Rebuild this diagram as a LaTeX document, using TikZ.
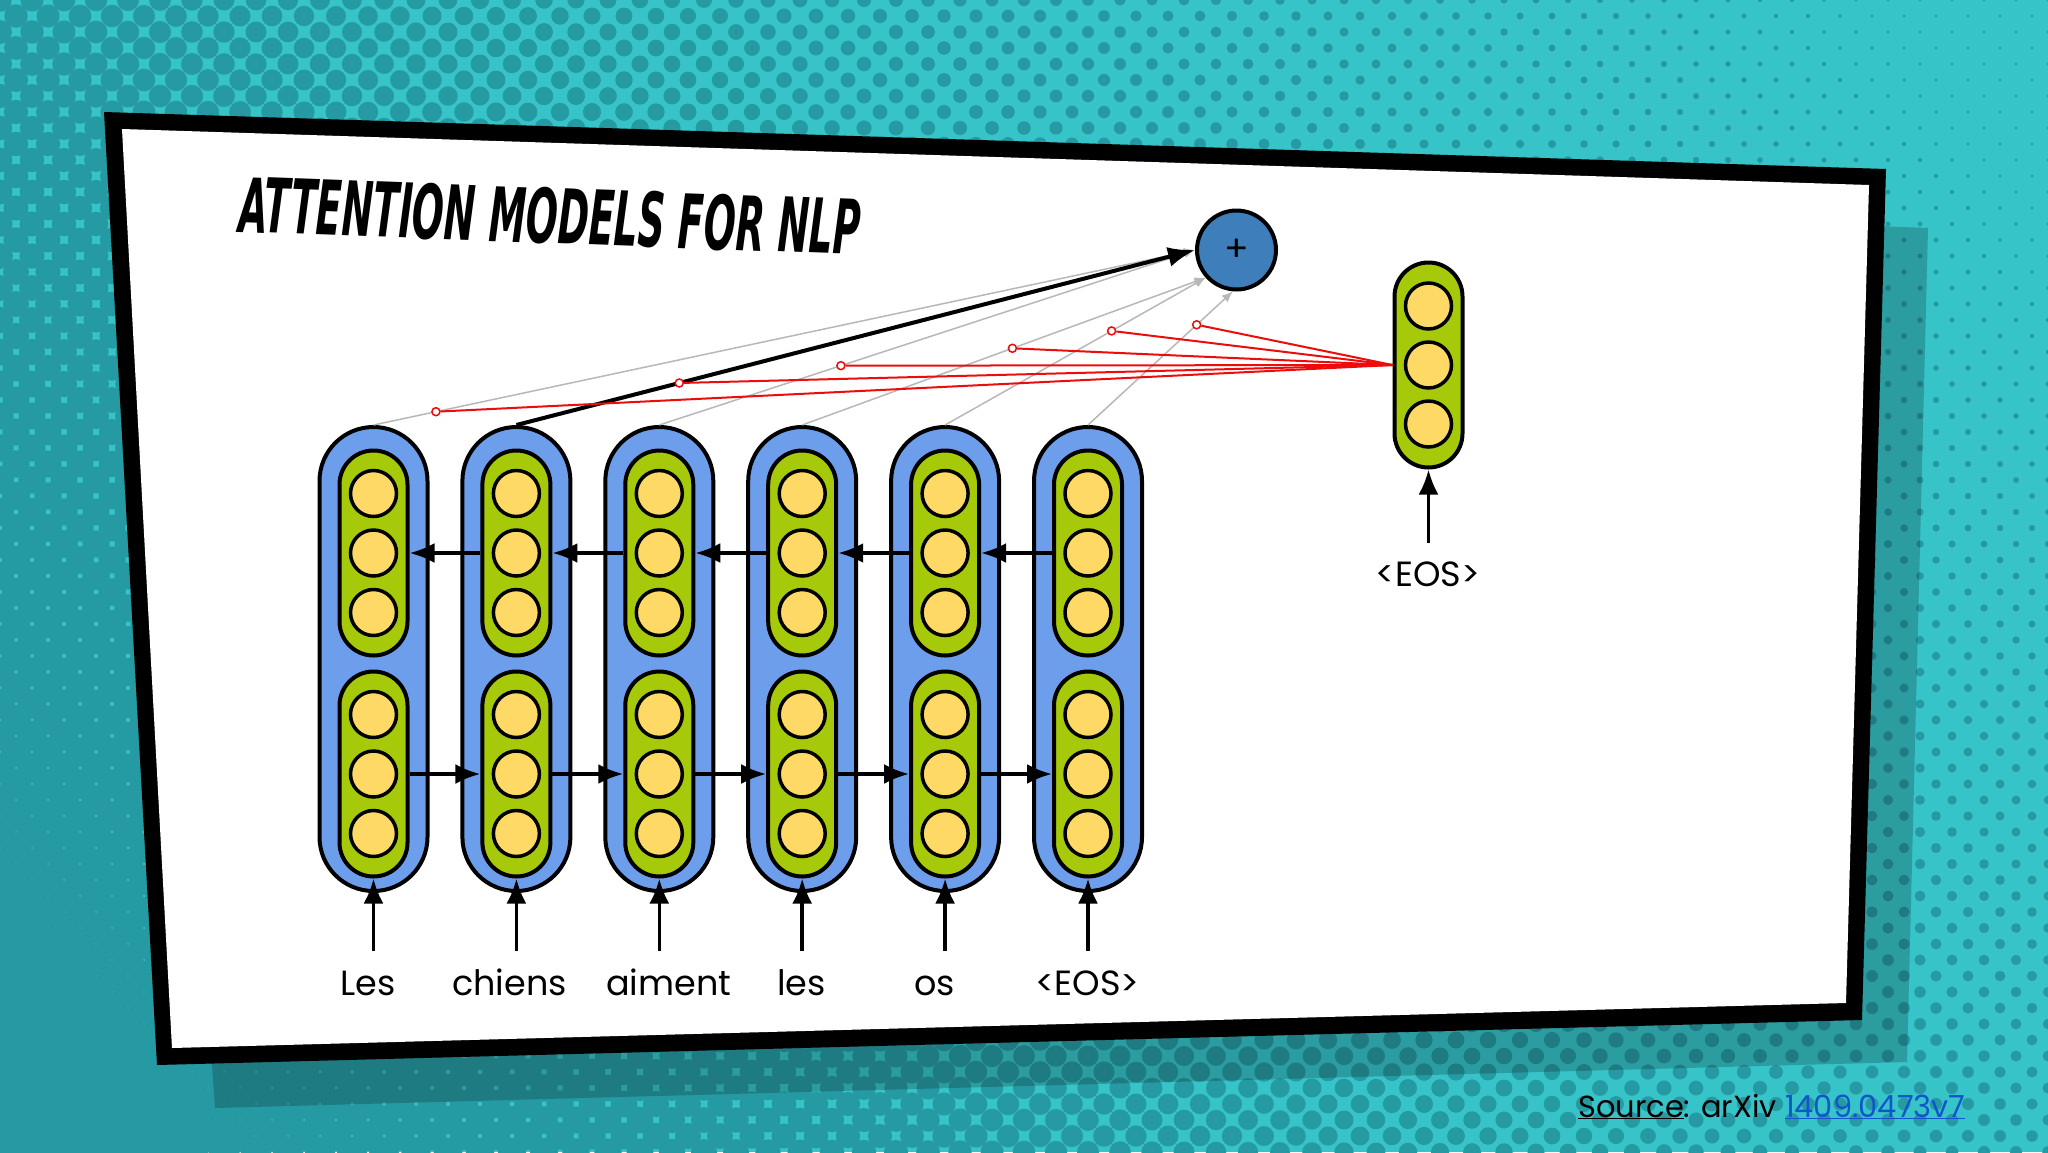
\documentclass[tikz,border=0pt]{standalone}
\usepackage{graphicx}
\usepackage{fontspec}
\setmainfont{Poppins}
\newfontfamily\titlefont{DejaVu Sans}
\usetikzlibrary{arrows.meta,calc}
\definecolor{bgteal}{RGB}{54,196,201}
\definecolor{dotteal}{RGB}{37,154,162}
\definecolor{capblue}{RGB}{109,158,235}
\definecolor{capgreen}{RGB}{166,202,10}
\definecolor{cellyellow}{RGB}{255,217,102}
\definecolor{plusblue}{RGB}{61,126,187}
\definecolor{attgray}{RGB}{184,184,184}
\definecolor{attred}{RGB}{236,12,12}
\definecolor{linkblue}{RGB}{17,85,204}
\newcommand{\wordfont}{\fontsize{35pt}{40pt}\selectfont}
\tikzset{
  bluecap/.style={draw, line width=4pt, fill=capblue, rectangle, rounded corners=54pt, minimum width=108pt, minimum height=464pt, inner sep=0pt},
  greencap/.style={draw, line width=4pt, fill=capgreen, rectangle, rounded corners=34pt, minimum width=68pt, minimum height=205pt, inner sep=0pt},
  cell/.style={draw, line width=3.5pt, fill=cellyellow, circle, minimum size=46pt, inner sep=0pt},
  flow/.style={line width=3.5pt, -{Latex[length=25pt,width=20pt]}},
  attgrey/.style={draw=attgray, line width=1.5pt, -{Latex[length=11pt,width=9pt]}},
  attmain/.style={line width=4pt, -{Latex[length=27pt,width=20pt]}},
  redlink/.style={draw=attred, line width=2pt},
  redring/.style={circle, draw=attred, line width=1.5pt, fill=white, minimum size=8pt, inner sep=0pt},
  word/.style={font=\wordfont, anchor=base, inner sep=0pt},
}
\begin{document}
\begin{tikzpicture}[x=1pt,y=-1pt]
\useasboundingbox (0,0) rectangle (2048,1152);
\fill[bgteal] (0,0) rectangle (2048,1152);
% halftone dots
\foreach \j in {0,...,72}{
  \foreach \i in {0,...,64}{
    \pgfmathsetmacro\px{32*\i+16*mod(\j,2)}
    \pgfmathsetmacro\py{16*\j}
    \pgfmathsetmacro\rr{max(1.3,0.58*(20.24-0.00935*\px+0.0077*\py))}
    \fill[dotteal] (\px,\py) circle[radius=\rr pt];
  }
}
% shadow and frame
\fill[black,opacity=0.2] (150,160) -- (1928,228) -- (1907,1062) -- (215,1108) -- cycle;
\fill[black] (104,112) -- (1886,169) -- (1862,1020) -- (157,1065) -- cycle;
\fill[white] (122,129) -- (1869,185) -- (1846,1003) -- (172,1048) -- cycle;
% title
\node[rotate=-2.1, anchor=base west, inner sep=0pt] (title) at (238,232)
  {\resizebox{622pt}{56pt}{\titlefont\bfseries\itshape ATTENTION MODELS FOR NLP}};
% encoder columns
\foreach \i/\x in {1/373.5,2/516.4,3/659.3,4/802.2,5/945.1,6/1088.0}{
  \node[bluecap] (b\i) at (\x,659) {};
  \node[greencap] (gu\i) at (\x,553) {};
  \node[greencap] (gl\i) at (\x,774) {};
  \foreach \k/\y in {1/493.5,2/553,3/612.5}{
    \node[cell] (u\i-\k) at (\x,\y) {};
  }
  \foreach \k/\y in {1/714.5,2/774,3/833.5}{
    \node[cell] (l\i-\k) at (\x,\y) {};
  }
  \coordinate (in\i) at (\x,951);
}
% recurrent arrows
\foreach \i [evaluate=\i as \j using int(\i+1)] in {1,...,5}{
  \draw[flow] (gl\i.east) -- (gl\j.west);
  \draw[flow] (gu\j.west) -- (gu\i.east);
}
% input words
\node[word] (w1) at (368,995) {Les};
\node[word] (w2) at (509.5,995) {chiens};
\node[word] (w3) at (668.8,995) {aiment};
\node[word] (w4) at (801.6,995) {les};
\node[word] (w5) at (934.8,995) {os};
\node[word] (w6) at (1087.4,995) {<EOS>};
\foreach \i in {1,...,6}{
  \draw[flow] (in\i) -- (gl\i.south);
}
% plus node
\node[circle, fill=plusblue, draw, line width=4pt, minimum size=79pt, inner sep=0pt,
      font=\fontsize{36pt}{40pt}\selectfont] (plus) at (1236.5,250) {+};
% decoder
\node[greencap] (dec) at (1428.5,365) {};
\foreach \k/\y in {1/306,2/365,3/424}{
  \node[cell] (d\k) at (1428.5,\y) {};
}
\node[word] (eos) at (1428,586.7) {<EOS>};
\coordinate (ein) at (1428.5,543);
\draw[flow] (ein) -- (dec.south);
% attention connections
\draw[attgrey] (b1.north) -- (plus.west);
\draw[attgrey] (b3.north) -- (plus.west);
\draw[attgrey] (b4.north) -- (plus.222);
\draw[attgrey] (b5.north) -- (plus.222);
\draw[attgrey] (b6.north) -- (plus.265);
\draw[attmain] (b2.north) -- (plus.west);
% red query links
\path ($(b1.north)!0.076!(plus.west)$) coordinate (p1);
\path ($(b2.north)!0.240!(plus.west)$) coordinate (p2);
\path ($(b3.north)!0.339!(plus.west)$) coordinate (p3);
\path ($(b4.north)!0.521!(plus.222)$) coordinate (p4);
\path ($(b5.north)!0.639!(plus.222)$) coordinate (p5);
\path ($(b6.north)!0.750!(plus.265)$) coordinate (p6);
\foreach \i in {1,...,6}{
  \node[redring] (r\i) at (p\i) {};
  \draw[redlink] (dec.west) -- (r\i);
}
% source
\node[anchor=base west, inner sep=0pt, font=\fontsize{30.5pt}{36pt}\selectfont] (src) at (1578,1117)
  {\underline{Source}: arXiv \textcolor{linkblue}{\underline{1409.0473v7}}};
\end{tikzpicture}
\end{document}
